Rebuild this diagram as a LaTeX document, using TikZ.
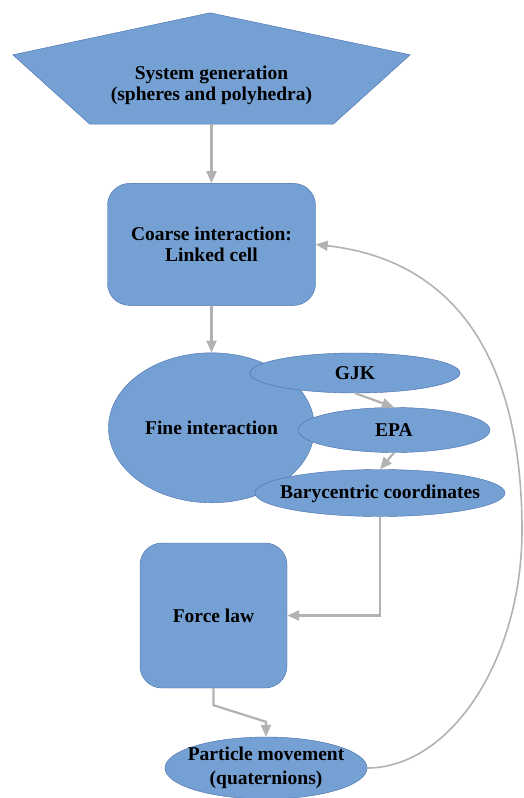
\documentclass[tikz,border=0pt]{standalone}
\usepackage{fontspec}
\setmainfont{Liberation Serif}
\usetikzlibrary{shapes.geometric, arrows.meta, positioning, calc, backgrounds}
\definecolor{flowblue}{RGB}{117,160,212}
\definecolor{flowedge}{RGB}{70,110,170}
\definecolor{flowgray}{RGB}{178,178,178}
\newcommand{\nobox}[1]{\makebox[0pt]{\raisebox{-5pt}[0pt][0pt]{#1}}}

\begin{document}
\begin{tikzpicture}[
    x=1pt, y=-1pt,
    font=\fontsize{19.5}{21}\selectfont\bfseries,
    block/.style={draw=flowedge, fill=flowblue, rounded corners=22pt, align=center, inner sep=0pt},
    bubble/.style={ellipse, draw=flowedge, fill=flowblue, inner sep=0pt},
    arrow/.style={-{Triangle[length=12pt, width=10pt]}, line width=2.2pt, flowgray}
]
    \useasboundingbox (0,0) rectangle (523,798);

    % Main column
    \node[align=center, minimum width=243pt, minimum height=77pt, inner sep=0pt] (sysgen) at (211.5,85.5) {System generation\\(spheres and polyhedra)};
    \begin{scope}[on background layer]
        \draw[draw=flowedge, fill=flowblue] (sysgen.south west) -- ($(sysgen.north west)+(-77,8)$) -- ($(sysgen.north)+(-1.5,-34)$) -- ($(sysgen.north east)+(77,8)$) -- (sysgen.south east) -- cycle;
    \end{scope}
    \node[block, minimum width=208pt, minimum height=122pt, below=59pt of sysgen] (coarse) {Coarse interaction:\\Linked cell};
    \node[bubble, minimum width=206pt, minimum height=150pt, below=47pt of coarse] (fine) {Fine interaction};

    % Collision steps
    \node[bubble, minimum width=210pt, minimum height=40pt] (gjk) at (355,373) {GJK};
    \node[bubble, minimum width=192pt, minimum height=45pt] (epa) at (394,430) {EPA};
    \node[bubble, minimum width=250pt, minimum height=47pt] (bary) at (380,493) {\nobox{Barycentric coordinates}};

    % Lower part
    \node[block, minimum width=147pt, minimum height=145pt] (force) at (213.5,615.5) {Force law};
    \node[bubble, minimum width=202pt, minimum height=62pt] (particle) at (266,768) {\nobox{\renewcommand{\arraystretch}{1.15}\begin{tabular}{@{}c@{}}Particle movement\\(quaternions)\end{tabular}}};
    \coordinate (loop) at (522,530);

    % Arrows
    \draw[arrow] (sysgen.south) -- (coarse.north);
    \draw[arrow] (coarse.south) -- (fine.north);
    \draw[arrow] (gjk.south) -- (epa.north);
    \draw[arrow] (epa.south) -- (bary.north);
    \draw[arrow] (bary.south) |- (force.east);
    \draw[arrow] (force.south) -- ++(0,17) -- ($(particle.north)+(0,-15)$) -- (particle.north);
    \draw[arrow, line width=1.6pt] (particle.east) .. controls (450,768) and (522,660) .. (loop) .. controls (522,380) and (470,262) .. (coarse.east);
\end{tikzpicture}
\end{document}
